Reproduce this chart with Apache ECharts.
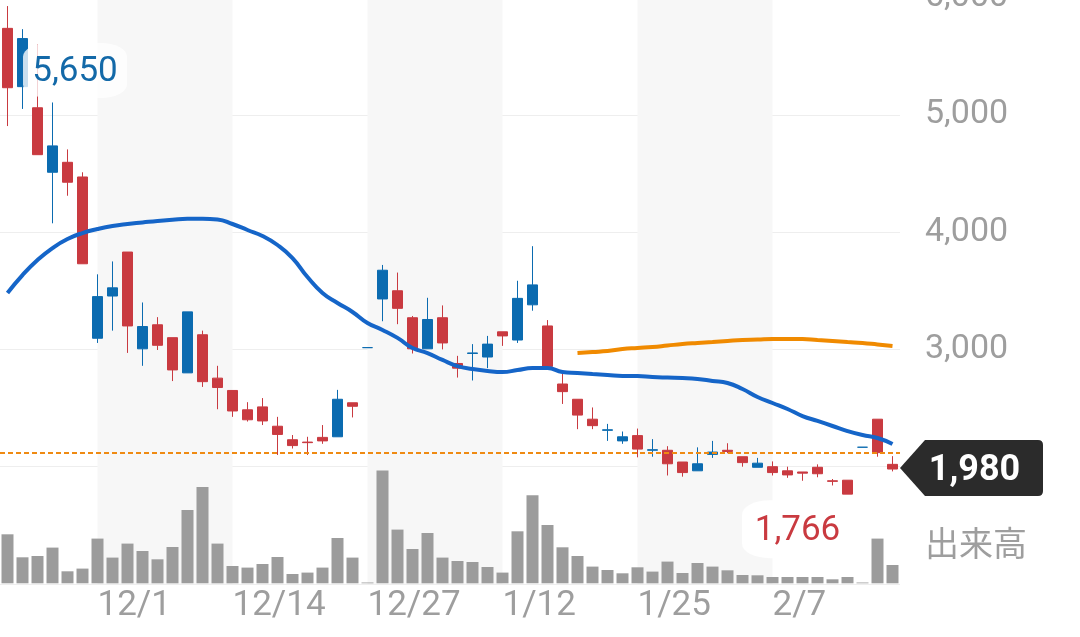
<!DOCTYPE html>
<html>
<head>
<meta charset="utf-8">
<script src="https://cdn.jsdelivr.net/npm/echarts@6/dist/echarts.min.js"></script>
<style>
html,body{margin:0;padding:0;background:#fff;}
#c{width:1080px;height:637px;}
</style>
</head>
<body>
<div id="c"></div>
<script>
// trading days (2022/11/22 - 2023/2/17)
const dates = ['11/22','11/24','11/25','11/28','11/29','11/30','12/1','12/2','12/5','12/6',
  '12/7','12/8','12/9','12/12','12/13','12/14','12/15','12/16','12/19','12/20',
  '12/21','12/22','12/23','12/26','12/27','12/28','12/29','12/30','1/4','1/5',
  '1/6','1/10','1/11','1/12','1/13','1/16','1/17','1/18','1/19','1/20',
  '1/23','1/24','1/25','1/26','1/27','1/30','1/31','2/1','2/2','2/3',
  '2/6','2/7','2/8','2/9','2/10','2/13','2/14','2/15','2/16','2/17'];
const tickLabels = ['12/1','12/14','12/27','1/12','1/25','2/7'];
const bandRanges = [['12/1','12/14'],['12/27','1/12'],['1/25','2/7']];

const openP  = [5737,5240,5060,4510,4595,4470,3095,3455,3830,3005,3210,3100,2800,3125,2755,2650,2485,2510,2345,2230,
  2210,2250,2255,2545,3015,3430,3500,3270,3005,3270,2880,2965,2935,3150,3080,3380,3200,2705,2575,2405,
  2310,2220,2265,2140,2140,2040,1965,2105,2140,2085,1995,2000,1965,1955,1995,1880,1885,2166,2405,2020];
const closeP = [5231,5650,4660,4735,4425,3730,3450,3525,3200,3195,3035,2825,3320,2725,2675,2475,2400,2390,2275,2180,
  2205,2220,2575,2515,3015,3675,3350,3005,3255,3055,2840,2970,3045,3115,3435,3550,2855,2640,2440,2350,
  2315,2255,2150,2145,2025,1950,2025,2125,2130,2035,2030,1950,1930,1945,1940,1875,1766,2166,2120,1980];
const lowP   = [4904,5050,4660,4075,4310,3730,3055,3160,2970,2860,2995,2730,2800,2680,2490,2425,2385,2355,2100,2155,
  2100,2195,2255,2420,3015,3240,3215,2965,3005,3000,2760,2735,2840,3030,3055,3330,2855,2535,2320,2320,
  2220,2195,2080,2085,1925,1915,1965,2075,2115,2000,1995,1925,1905,1880,1910,1840,1766,2166,2085,1960];
const highP  = [5927,5730,5600,5105,4705,4510,3640,3750,3830,3400,3275,3100,3320,3160,2860,2650,2550,2585,2425,2270,
  2255,2355,2655,2545,3015,3720,3655,3285,3440,3375,2945,3045,3115,3150,3585,3880,3250,2810,2575,2505,
  2365,2300,2325,2235,2175,2040,2165,2220,2200,2085,2075,2045,2000,1955,2020,1895,1885,2166,2405,2090];
const volume = [490,260,273,357,120,147,447,257,397,323,240,363,733,963,397,173,157,193,263,93,
  107,157,453,257,8,1127,537,343,503,257,223,213,163,107,520,880,583,360,273,167,
  133,100,160,117,217,103,203,167,130,83,80,63,63,63,63,40,63,8,447,183];
const maShort = [3481,3634,3762,3864,3941,3992,4026,4052,4069,4082,4095,4105,4113,4114,4108,4069,4018,3967,3890,3779,
  3617,3481,3396,3319,3225,3166,3098,3012,2969,2910,2858,2833,2816,2807,2824,2841,2841,2807,2799,2790,
  2782,2773,2773,2765,2760,2756,2748,2731,2714,2662,2594,2543,2492,2432,2390,2347,2304,2270,2245,2194];
const maLong = [null,null,null,null,null,null,null,null,null,null,null,null,null,null,null,null,null,null,null,null,
  null,null,null,null,null,null,null,null,null,null,null,null,null,null,null,null,null,null,2969,2978,
  2986,3003,3012,3020,3033,3046,3055,3063,3072,3080,3084,3089,3089,3089,3080,3072,3063,3055,3042,3029];
const priceTicks = [1000, 2000, 3000, 4000, 5000, 6000];
const highMark = {idx: 1, value: 5650};
const lowMark = {idx: 56, value: 1766};
const prevClose = closeP[58];
const lastClose = closeP[59];

const fmt = v => Number(v).toLocaleString('en-US');
const candleData = dates.map((d, i) => [openP[i], closeP[i], lowP[i], highP[i]]);

const chart = echarts.init(document.getElementById('c'), null, {renderer: 'canvas'});
chart.setOption({
  animation: false,
  backgroundColor: '#ffffff',
  textStyle: {fontFamily: 'Roboto, "Noto Sans CJK JP", sans-serif'},
  grid: [
    {left: 0, right: 180, top: -2.5, height: 586.5, containLabel: false, outerBoundsMode: 'none'},
    {left: 0, right: 180, top: 470.3, height: 113, containLabel: false, outerBoundsMode: 'none'}
  ],
  xAxis: [
    {type: 'category', data: dates, gridIndex: 0, boundaryGap: true, show: false},
    {type: 'category', data: dates, gridIndex: 1, boundaryGap: true,
      axisLine: {show: false}, axisTick: {show: false}, splitLine: {show: false},
      axisLabel: {
        interval: (idx, val) => tickLabels.indexOf(val) >= 0,
        align: 'left', margin: 5, fontSize: 35, color: '#9e9e9e', fontFamily: 'Roboto'
      }}
  ],
  yAxis: [
    {type: 'value', gridIndex: 0, position: 'right', min: priceTicks[0], max: priceTicks[priceTicks.length - 1],
      interval: 1000, scale: false,
      axisLine: {show: false}, axisTick: {show: false},
      splitLine: {show: true, lineStyle: {color: '#eeeeee', width: 1}},
      axisLabel: {margin: 25, fontSize: 34, color: '#9e9e9e', fontFamily: 'Roboto', padding: [5, 0, 0, 0],
        formatter: v => (v === priceTicks[0] ? '' : fmt(v))}},
    {type: 'value', gridIndex: 1, min: 0, max: 1130, show: false, splitLine: {show: false}}
  ],
  graphic: [
    {type: 'text', left: 925, top: 526, z: 10,
      style: {text: '出来高', fill: '#9e9e9e', fontSize: 34, fontFamily: '"Noto Sans CJK JP", sans-serif'}}
  ],
  series: [
    {
      name: 'price', type: 'candlestick', xAxisIndex: 0, yAxisIndex: 0,
      data: candleData, barWidth: 10,
      itemStyle: {color: '#0b6bb0', color0: '#c93a40', borderColor: '#0b6bb0', borderColor0: '#c93a40', borderWidth: 1},
      markArea: {
        silent: true,
        itemStyle: {color: '#f7f7f7'},
        data: bandRanges.map(r => [{xAxis: r[0]}, {xAxis: r[1]}])
      },
      markLine: {
        silent: true, symbol: ['none', 'none'],
        label: {show: false},
        lineStyle: {type: [5, 3], color: '#ef8a12', width: 2},
        data: [{yAxis: prevClose}]
      },
      markPoint: {
        silent: true,
        data: [
          {coord: [dates[highMark.idx], highMark.value], value: highMark.value,
            symbol: 'roundRect', symbolSize: [104, 55], symbolOffset: [52.5, 32],
            itemStyle: {color: 'rgba(255,255,255,0.78)'},
            label: {show: true, position: 'inside', offset: [0, 2], formatter: p => fmt(p.value), color: '#1369a8', fontSize: 35, fontFamily: 'Roboto'}},
          {coord: [dates[lowMark.idx], lowMark.value], value: lowMark.value,
            symbol: 'roundRect', symbolSize: [111, 58], symbolOffset: [-50, 35],
            itemStyle: {color: 'rgba(255,255,255,0.92)'},
            label: {show: true, position: 'inside', offset: [0, 2], formatter: p => fmt(p.value), color: '#c93a40', fontSize: 35, fontFamily: 'Roboto'}},
          {coord: [dates[dates.length - 1], lastClose], value: lastClose,
            symbol: 'path://M0,28 L25,0 L138,0 Q143,0 143,5 L143,51 Q143,56 138,56 L25,56 Z',
            symbolSize: [143, 56], symbolOffset: [79, -1],
            itemStyle: {color: '#2b2b2b'},
            label: {show: true, position: 'inside', offset: [3, 3], formatter: p => fmt(p.value), color: '#ffffff', fontSize: 36, fontWeight: 'bold', fontFamily: 'Roboto'}}
        ]
      }
    },
    {
      name: 'MA25', type: 'line', xAxisIndex: 0, yAxisIndex: 0, data: maShort,
      symbol: 'none', smooth: true, lineStyle: {color: '#1565c8', width: 4}, z: 3
    },
    {
      name: 'MA75', type: 'line', xAxisIndex: 0, yAxisIndex: 0, data: maLong,
      symbol: 'none', smooth: true, lineStyle: {color: '#f08a00', width: 4}, z: 3
    },
    {
      name: 'volume', type: 'bar', xAxisIndex: 1, yAxisIndex: 1, data: volume,
      barWidth: 12, itemStyle: {color: '#9c9c9c'}
    }
  ]
});
</script>
</body>
</html>
